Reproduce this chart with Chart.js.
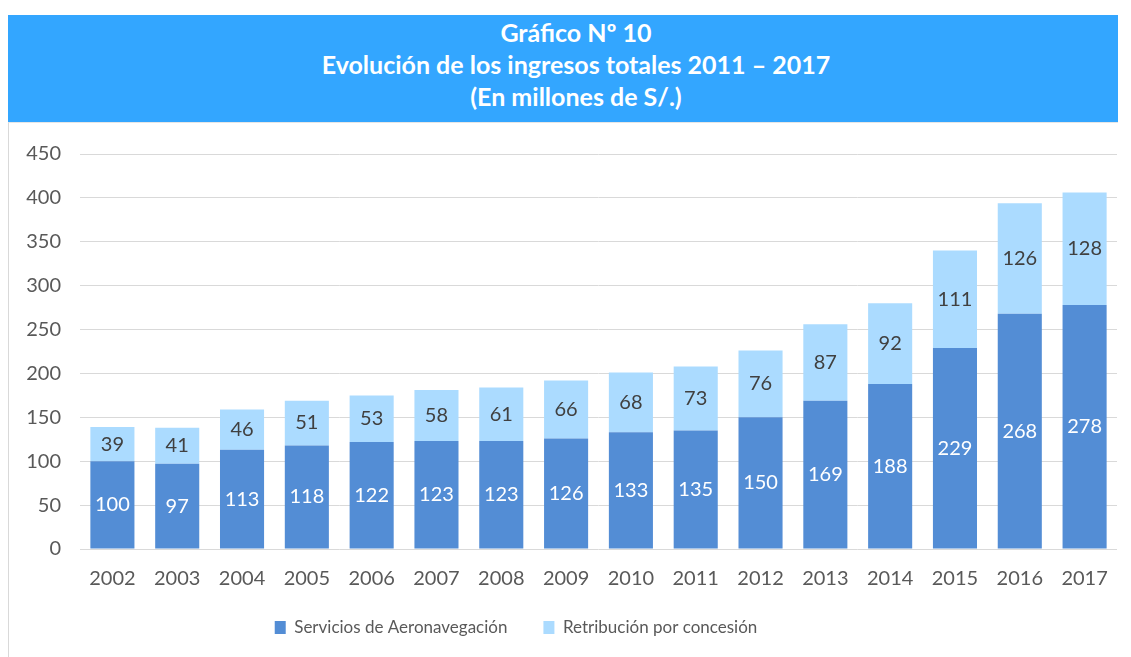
<!DOCTYPE html>
<html>
<head>
<meta charset="utf-8">
<script src="https://cdn.jsdelivr.net/npm/chart.js@4/dist/chart.umd.min.js"></script>
<style>
  body { margin: 0; background: #fff; font-family: Lato, sans-serif; }
  #banner {
    position: absolute; left: 8px; top: 15px; width: 1110px; height: 107px;
    background: #33A6FF; color: #fff; font-weight: bold; font-size: 25px;
    line-height: 32px; text-align: center; padding-left: 26px; box-sizing: border-box;
    padding-top: 1px;
  }
  #wrap {
    position: absolute; left: 8px; top: 122px; width: 1110px; height: 535px;
    border-left: 1px solid #d9d9d9; border-top: 1px solid #e6e6e6; box-sizing: border-box;
  }
</style>
</head>
<body>
<div id="banner">
  <div>Gráfico Nº 10</div>
  <div>Evolución de los ingresos totales 2011 – 2017</div>
  <div>(En millones de S/.)</div>
</div>
<div id="wrap">
  <canvas id="chart" width="1109" height="534"></canvas>
</div>
<script>
// Years on the x axis
var years = ['2002', '2003', '2004', '2005', '2006', '2007', '2008', '2009',
	'2010', '2011', '2012', '2013', '2014', '2015', '2016', '2017'];

// Values in millions of S/.
var aeronavegacion = [100, 97, 113, 118, 122, 123, 123, 126, 133, 135, 150, 169, 188, 229, 268, 278];
var concesion = [39, 41, 46, 51, 53, 58, 61, 66, 68, 73, 76, 87, 92, 111, 126, 128];

// y axis ticks
var yMax = 450;
var yStep = 50;

// Draw the value of each segment in the middle of the bar
var barLabels = {
	id: 'barLabels',
	afterDatasetsDraw: function(chart) {
		var ctx = chart.ctx;
		ctx.save();
		ctx.font = '20px Lato';
		ctx.textAlign = 'center';
		ctx.textBaseline = 'middle';
		chart.data.datasets.forEach(function(ds, i) {
			var meta = chart.getDatasetMeta(i);
			ctx.fillStyle = i === 0 ? '#ffffff' : '#404040';
			meta.data.forEach(function(bar, j) {
				var p = bar.getProps(['x', 'y', 'base'], true);
				ctx.fillText(ds.data[j], p.x, (p.y + p.base) / 2);
			});
		});
		ctx.restore();
	}
};

// the legend sits a bit left of centre in the original
var legendShift = {
	id: 'legendShift',
	afterLayout: function(chart) {
		var lg = chart.legend;
		lg.left = 0;
		lg.right = 1014;
		lg.top -= 3;
		lg.bottom -= 3;
	}
};

var ctx = document.getElementById('chart').getContext('2d');
var chart = new Chart(ctx, {
	type: 'bar',
	data: {
		labels: years,
		datasets: [{
			label: 'Servicios de Aeronavegación',
			data: aeronavegacion,
			backgroundColor: '#538DD5',
			borderWidth: 0
		}, {
			label: 'Retribución por concesión',
			data: concesion,
			backgroundColor: '#ABDBFF',
			borderWidth: 0
		}]
	},
	options: {
		responsive: false,
		animation: false,
		layout: { padding: { top: 29, right: 1, bottom: 8, left: 0 } },
		datasets: {
			bar: { categoryPercentage: 1, barPercentage: 0.68 }
		},
		plugins: {
			legend: {
				position: 'bottom',
				labels: {
					color: '#595959',
					font: { family: 'Lato', size: 17 },
					boxWidth: 11,
					boxHeight: 13,
					padding: 36
				}
			},
			tooltip: { enabled: false }
		},
		scales: {
			x: {
				stacked: true,
				grid: { display: false },
				border: { display: false },
				ticks: {
					color: '#595959',
					font: { family: 'Lato', size: 20 },
					padding: 10
				},
				afterFit: function(scale) { scale.height = 37; }
			},
			y: {
				stacked: true,
				min: 0,
				max: yMax,
				ticks: {
					stepSize: yStep,
					color: '#595959',
					font: { family: 'Lato', size: 20 },
					padding: 19
				},
				grid: { color: '#d9d9d9', drawTicks: false },
				border: { display: false },
				afterFit: function(scale) { scale.width = 71; }
			}
		}
	},
	plugins: [barLabels, legendShift]
});
</script>
</body>
</html>
